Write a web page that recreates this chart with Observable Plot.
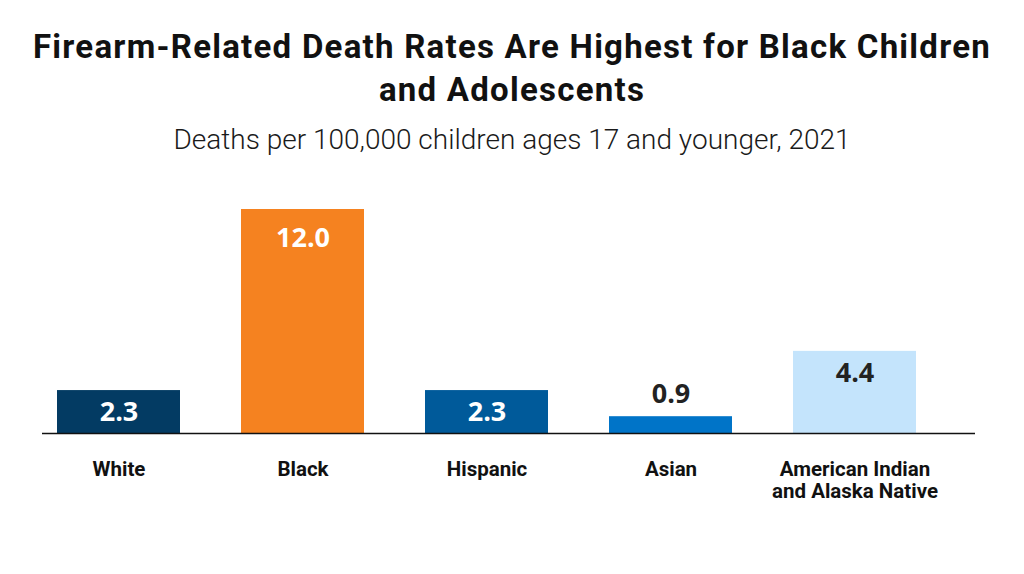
<!DOCTYPE html>
<html>
<head>
<meta charset="utf-8">
<script src="https://cdn.jsdelivr.net/npm/d3@7"></script>
<script src="https://cdn.jsdelivr.net/npm/@observablehq/plot@0.6"></script>
<style>
  html, body { margin: 0; padding: 0; background: #fff; width: 1024px; height: 574px; overflow: hidden; }
  #head { height: 170px; text-align: center; font-family: Roboto, "Noto Sans", sans-serif; color: #111; }
  #title { margin: 0; padding-top: 25px; font-size: 33px; font-weight: 700; line-height: 43px; letter-spacing: 1.25px; white-space: nowrap; }
  #subtitle { margin-top: 14px; font-size: 28px; font-weight: 300; line-height: 30px; color: #1a1a1a; white-space: nowrap; }
  svg { display: block; }
</style>
</head>
<body>
<div id="head">
  <div id="title">Firearm-Related Death Rates Are Highest for Black Children<br>and Adolescents</div>
  <div id="subtitle">Deaths per 100,000 children ages 17 and younger, 2021</div>
</div>
<div id="chart"></div>
<script>
const categories = ["White", "Black", "Hispanic", "Asian", "American Indian and Alaska Native"];
const tickLabels = ["White", "Black", "Hispanic", "Asian", "American Indian\nand Alaska Native"];
const values = [2.3, 12.0, 2.3, 0.9, 4.4];
const colors = ["#033b63", "#f58220", "#005a9a", "#0074c8", "#c4e4fc"];
const labelColors = ["#ffffff", "#ffffff", "#ffffff", "#222222", "#222222"];

const data = categories.map((c, i) => ({cat: c, value: values[i], color: colors[i], lc: labelColors[i], label: values[i].toFixed(1)}));
const big = d => d.value >= 2;
const labelFont = {fontSize: 27, fontWeight: 700, fontFamily: "'Open Sans', sans-serif"};

const chart = Plot.plot({
  width: 1024,
  height: 404,
  marginLeft: 24.8,
  marginRight: 76.2,
  marginTop: 39,
  marginBottom: 141,
  x: {domain: categories, paddingInner: 0.3337, paddingOuter: 0.16685},
  y: {domain: [0, 12], axis: null},
  marks: [
    Plot.barY(data, {x: "cat", y: "value", fill: "color"}),
    Plot.ruleY([0], {stroke: "#111", strokeWidth: 1.5, insetLeft: 17.2, insetRight: -27.2}),
    Plot.text(data.filter(d => big(d) && d.value < 10), {x: "cat", y: "value", text: "label", fill: "lc", dy: 22, ...labelFont}),
    Plot.text(data.filter(d => d.value >= 10), {x: "cat", y: "value", text: "label", fill: "lc", dy: 29, ...labelFont}),
    Plot.text(data.filter(d => !big(d)), {x: "cat", y: "value", text: "label", fill: "lc", dy: -22, ...labelFont}),
    Plot.axisX({tickSize: 0, tickPadding: 26, tickFormat: c => tickLabels[categories.indexOf(c)], fontSize: 20.5, fontWeight: 700, fill: "#111", label: null, lineHeight: 1.1, fontFamily: "Roboto, sans-serif"})
  ]
});
document.getElementById("chart").appendChild(chart);
</script>
</body>
</html>
